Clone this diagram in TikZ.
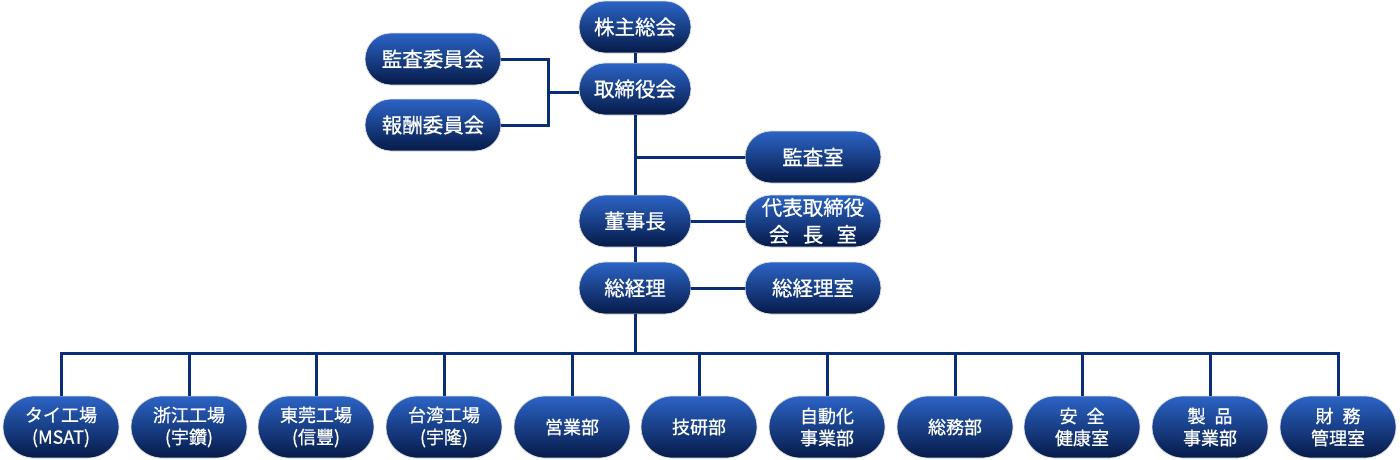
\documentclass[tikz,border=0pt]{standalone}
\usepackage{fontspec}
\setmainfont{Noto Sans CJK JP}[FakeBold=0.8]
\definecolor{bltop}{RGB}{44,100,198}
\definecolor{blbot}{RGB}{6,26,72}
\definecolor{lc}{RGB}{10,46,118}
\begin{document}
\begin{tikzpicture}[x=1pt,y=-1pt,
  box/.style={rounded corners=25.9pt, top color=bltop, bottom color=blbot,
    draw=black!12, line width=0.8pt,
    minimum width=112pt, minimum height=52pt, text=white, inner sep=0pt,
    align=center, font=\fontsize{20.5}{27}\selectfont},
  wbox/.style={box, minimum width=136pt},
  bbox/.style={box, rounded corners=30.9pt, minimum width=116pt, minimum height=62pt,
    font=\fontsize{18}{22}\selectfont},
  conn/.style={line width=3pt, draw=lc}]
\useasboundingbox (0,0) rectangle (1400,459);

\coordinate (jc) at (548,92);
\coordinate (bus) at (635,353);

\node[box] (kabu) at (635,27) {株主総会};
\node[box] (tori) at (635,89) {取締役会};
\node[wbox] (kansa) at (433,59) {監査委員会};
\node[wbox] (hoshu) at (433,125) {報酬委員会};
\node[wbox] (kshitsu) at (813,157) {監査室};
\node[box] (tou) at (635,221) {董事長};
\node[wbox] (daihyo) at (813,221) {代表取締役\\会\hspace{0.65em}長\hspace{0.65em}室};
\node[box] (sou) at (635,288) {総経理};
\node[wbox] (sshitsu) at (813,288) {総経理室};

\node[bbox] (b1) at (61,427) {タイ工場\\(MSAT)};
\node[bbox] (b2) at (189,427) {浙江工場\\(宇鑽)};
\node[bbox] (b3) at (316,427) {東莞工場\\(信豐)};
\node[bbox] (b4) at (444,427) {台湾工場\\(宇隆)};
\node[bbox] (b5) at (572,427) {営業部};
\node[bbox] (b6) at (699,427) {技研部};
\node[bbox] (b7) at (827,427) {自動化\\事業部};
\node[bbox] (b8) at (955,427) {総務部};
\node[bbox] (b9) at (1082,427) {安\hspace{0.5em}全\\健康室};
\node[bbox] (b10) at (1210,427) {製\hspace{0.5em}品\\事業部};
\node[bbox] (b11) at (1338,427) {財\hspace{0.5em}務\\管理室};

\draw[conn] (kabu) -- (tori);
\draw[conn] (tori) -- (tou);
\draw[conn] (tou) -- (sou);
\draw[conn] (sou) -- (bus);
\draw[conn] (kansa.east) -| (jc) |- (hoshu.east);
\draw[conn] (jc) -- (jc -| tori.west);
\draw[conn] (kshitsu.west) -- (kshitsu.west -| tori.south);
\draw[conn] (tou) -- (daihyo);
\draw[conn] (sou) -- (sshitsu);
\draw[conn, line cap=rect] (bus -| b1) -- (bus -| b11);
\foreach \b in {b1,b2,b3,b4,b5,b6,b7,b8,b9,b10,b11}
  \draw[conn] (bus -| \b) -- (\b.north);
\end{tikzpicture}
\end{document}
